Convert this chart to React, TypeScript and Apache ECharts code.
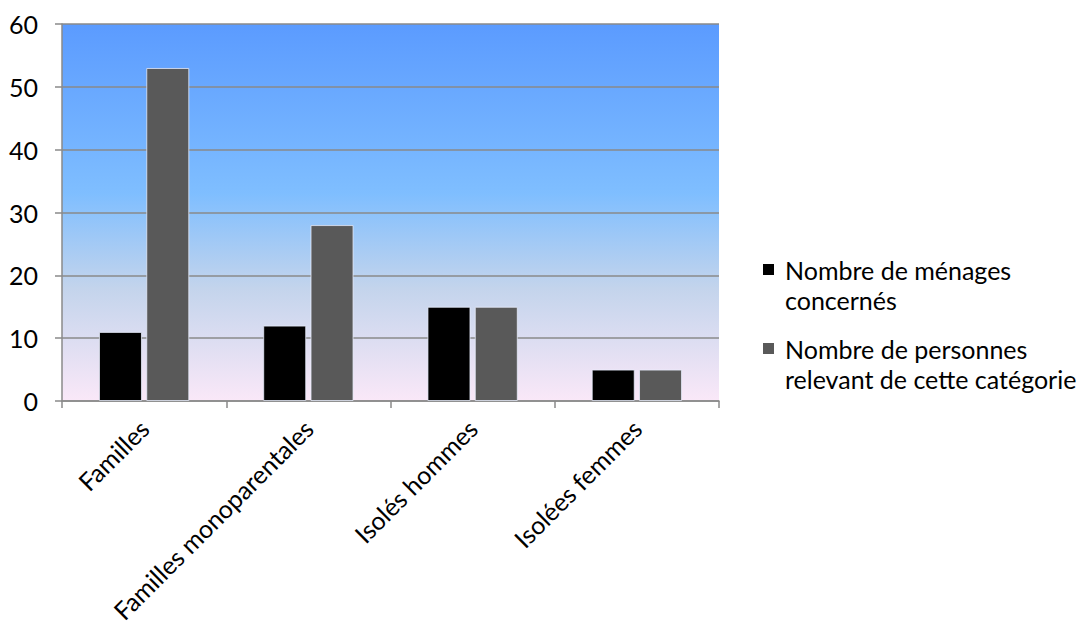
import React, { useEffect, useRef } from "react";
import * as echarts from "echarts";

const categories = ["Familles", "Familles monoparentales", "Isolés hommes", "Isolées femmes"];
const menages = [11, 12, 15, 5];
const personnes = [53, 28, 15, 5];
const seriesNames = ["Nombre de ménages concernés", "Nombre de personnes relevant de cette catégorie"];
const legendLines = ["Nombre de ménages\nconcernés", "Nombre de personnes\nrelevant de cette catégorie"];
const seriesColors = ["#000000", "#595959"];

const FONT = "Lato, 'Open Sans', sans-serif";
const FONT_SIZE = 25;
const AXIS_GRAY = "#8a8a8a";

export default function App() {
  const ref = useRef<HTMLDivElement>(null);

  useEffect(() => {
    if (!ref.current) return;
    const chart = echarts.init(ref.current, undefined, { renderer: "svg" });
    const barBorder = { borderColor: "rgba(235,240,255,0.75)", borderWidth: 1 };

    // Legend drawn as graphic items so the swatch sits on the first text line
    const legendTops = [264, 343];
    const legendGraphics = seriesNames.map((name, i) => ({
      type: "group",
      name,
      children: [
        {
          type: "rect",
          shape: { x: 763, y: legendTops[i], width: 11, height: 11 },
          style: { fill: seriesColors[i] },
        },
        {
          type: "text",
          x: 785,
          y: legendTops[i] + 5.5 - 15,
          style: {
            text: legendLines[i],
            font: `${FONT_SIZE}px ${FONT}`,
            fill: "#000",
            lineHeight: 30,
            verticalAlign: "top",
          },
        },
      ],
    }));

    chart.setOption({
      animation: false,
      textStyle: { fontFamily: FONT },
      grid: {
        left: 62,
        right: 360,
        top: 24,
        bottom: 227,
        show: true,
        borderWidth: 0,
        backgroundColor: new echarts.graphic.LinearGradient(0, 0, 0, 1, [
          { offset: 0, color: "#5b9bff" },
          { offset: 0.45, color: "#7fbeff" },
          { offset: 0.7, color: "#c3d4ec" },
          { offset: 1, color: "#fae8f8" },
        ]),
      },
      graphic: legendGraphics,
      xAxis: {
        type: "category",
        data: categories,
        axisLine: { lineStyle: { color: AXIS_GRAY, width: 1.5 } },
        axisTick: { show: true, length: 7, lineStyle: { color: AXIS_GRAY, width: 1.5 } },
        axisLabel: {
          rotate: 45,
          interval: 0,
          margin: 23,
          fontFamily: FONT,
          fontSize: FONT_SIZE,
          color: "#000",
        },
      },
      yAxis: {
        type: "value",
        min: 0,
        max: 60,
        interval: 10,
        axisLine: { show: true, lineStyle: { color: AXIS_GRAY, width: 1.5 } },
        axisTick: { show: true, length: 7, lineStyle: { color: AXIS_GRAY, width: 1.5 } },
        splitLine: { lineStyle: { color: AXIS_GRAY, width: 1.5 } },
        axisLabel: { margin: 24, fontFamily: FONT, fontSize: FONT_SIZE, color: "#000" },
      },
      series: [
        {
          name: seriesNames[0],
          type: "bar",
          data: menages,
          barGap: "10%",
          barCategoryGap: "45%",
          itemStyle: { color: seriesColors[0], ...barBorder },
        },
        {
          name: seriesNames[1],
          type: "bar",
          data: personnes,
          itemStyle: { color: seriesColors[1], ...barBorder },
        },
      ],
    });
    return () => chart.dispose();
  }, []);

  return (
    <div
      ref={ref}
      style={{ position: "fixed", left: 0, top: 0, width: 1079, height: 628, background: "#fff" }}
    />
  );
}
